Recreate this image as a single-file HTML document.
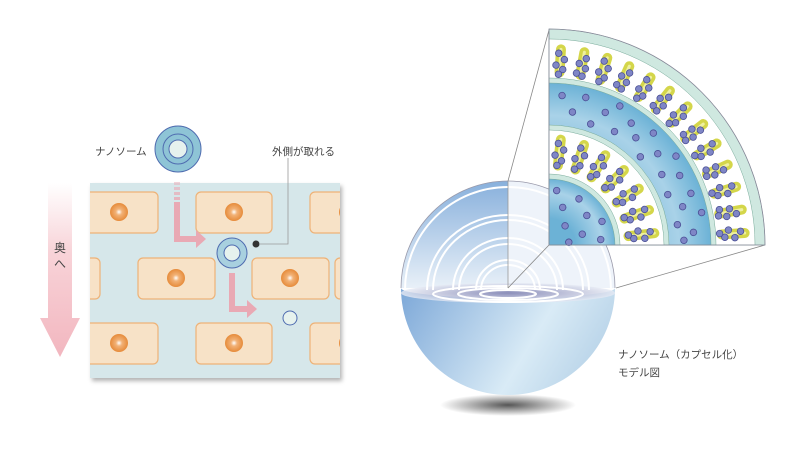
<!DOCTYPE html>
<html><head><meta charset="utf-8"><style>
body{margin:0;background:#fff;width:800px;height:460px;overflow:hidden}
svg text{font-family:"Liberation Sans","Noto Sans CJK JP",sans-serif;fill:#444}
</style></head><body>
<svg width="800" height="460" viewBox="0 0 800 460" xmlns="http://www.w3.org/2000/svg" xmlns:xlink="http://www.w3.org/1999/xlink">
<defs>
<linearGradient id="pk" x1="0" y1="0" x2="0" y2="1"><stop offset="0" stop-color="#fff"/><stop offset="0.4" stop-color="#f8d3d8"/><stop offset="1" stop-color="#f2b6bf"/></linearGradient>
<radialGradient id="nu"><stop offset="0" stop-color="#fff"/><stop offset="0.35" stop-color="#f2b277"/><stop offset="1" stop-color="#e68b3a"/></radialGradient>
<linearGradient id="sph" x1="0" y1="0" x2="1" y2="0.3"><stop offset="0" stop-color="#7da8d8"/><stop offset="0.7" stop-color="#d9ebf6"/><stop offset="1" stop-color="#bcd6ea"/></linearGradient>
<linearGradient id="up" x1="0" y1="0" x2="0" y2="1"><stop offset="0" stop-color="#88b0dc"/><stop offset="1" stop-color="#e8f0f8"/></linearGradient>
<radialGradient id="sh"><stop offset="0" stop-color="#555"/><stop offset="1" stop-color="#fff"/></radialGradient>
<radialGradient id="bl" cx="0" cy="1" r="1"><stop offset="0.4" stop-color="#6cb2d6"/><stop offset="0.8" stop-color="#a9d2e8"/><stop offset="1" stop-color="#6cb2d6"/></radialGradient>
<radialGradient id="cut" cx="0.5" cy="0.5"><stop offset="0" stop-color="#6e72a8"/><stop offset="1" stop-color="#e6eaf4"/></radialGradient>
<filter id="ds"><feDropShadow dx="2" dy="3" stdDeviation="2" flood-opacity="0.3"/></filter>
<clipPath id="pc"><rect x="90" y="183" width="250" height="195"/></clipPath>
<circle id="b" cx="549" cy="245" r="3.3" fill="#7f86c6" stroke="#4a4f95" stroke-width="0.8"/>
<g id="L1">
<line x1="549" y1="49" x2="549" y2="72" stroke="#d4d64a" stroke-width="10" stroke-linecap="round"/>
<line x1="549" y1="49" x2="549" y2="72" stroke="#eef0a0" stroke-width="3" stroke-linecap="round"/>
<use xlink:href="#b" x="-2" y="-192"/><use xlink:href="#b" x="4" y="-186"/><use xlink:href="#b" x="-4" y="-180"/><use xlink:href="#b" x="3" y="-176"/><use xlink:href="#b" x="-1" y="-171"/>
</g>
<g id="L2">
<line x1="549" y1="49" x2="549" y2="72" stroke="#d4d64a" stroke-width="10" stroke-linecap="round"/>
<line x1="549" y1="49" x2="549" y2="72" stroke="#eef0a0" stroke-width="3" stroke-linecap="round"/>
<use xlink:href="#b" x="3" y="-190"/><use xlink:href="#b" x="-3" y="-184"/><use xlink:href="#b" x="4" y="-180"/><use xlink:href="#b" x="-4" y="-174"/><use xlink:href="#b" x="2" y="-172"/>
</g>
<g id="L3">
<line x1="549" y1="139" x2="549" y2="165" stroke="#d4d64a" stroke-width="10" stroke-linecap="round"/>
<line x1="549" y1="139" x2="549" y2="165" stroke="#eef0a0" stroke-width="3" stroke-linecap="round"/>
<use xlink:href="#b" x="-2" y="-102"/><use xlink:href="#b" x="4" y="-96"/><use xlink:href="#b" x="-4" y="-90"/><use xlink:href="#b" x="3" y="-85"/><use xlink:href="#b" x="-1" y="-80"/>
</g>
</defs>
<!-- left arrow -->
<polygon points="48,183 72,183 72,318 80,318 60,357 40,318 48,318" fill="url(#pk)"/>
<text x="54" y="252" font-size="12">奥</text><text x="54" y="268" font-size="12">へ</text>
<!-- panel -->
<rect x="90" y="183" width="250" height="195" fill="#d6e7ea" filter="url(#ds)"/>
<g clip-path="url(#pc)" fill="#f7e2c7" stroke="#eeb277" stroke-width="1.2">
<rect x="72" y="192" width="86" height="41" rx="5"/><rect x="196" y="192" width="76" height="41" rx="5"/><rect x="310" y="192" width="76" height="41" rx="5"/>
<rect x="24" y="258" width="76" height="41" rx="5"/><rect x="138" y="258" width="77" height="41" rx="5"/><rect x="252" y="258" width="77" height="41" rx="5"/><rect x="335" y="258" width="76" height="41" rx="5"/>
<rect x="72" y="323" width="86" height="41" rx="5"/><rect x="196" y="323" width="76" height="41" rx="5"/><rect x="310" y="323" width="76" height="41" rx="5"/>
<g stroke="none" fill="url(#nu)">
<circle cx="119" cy="212" r="9"/><circle cx="234" cy="212" r="9"/><circle cx="348" cy="212" r="9"/>
<circle cx="176" cy="278" r="9"/><circle cx="290" cy="278" r="9"/>
<circle cx="119" cy="343" r="9"/><circle cx="234" cy="343" r="9"/><circle cx="348" cy="343" r="9"/>
</g>
</g>
<!-- arrows -->
<g fill="#e9a9b4">
<rect x="174" y="182" width="6" height="3" opacity="0.5"/><rect x="174" y="187" width="6" height="3" opacity="0.6"/><rect x="174" y="192" width="6" height="3" opacity="0.7"/><rect x="174" y="197" width="6" height="3" opacity="0.8"/>
<path d="M174,202 h6 v34 h16 v-6 l10,9 l-10,9 v-6 h-22 z"/>
<path d="M229,273 h6 v33 h12 v-6 l10,9 l-10,9 v-6 h-18 z"/>
</g>
<!-- nanosome top -->
<circle cx="178" cy="149" r="23" fill="#8ec4d6" stroke="#4f6cb0" stroke-width="1"/>
<circle cx="178" cy="149" r="15" fill="#8ec4d6" stroke="#4f6cb0" stroke-width="1"/>
<circle cx="178" cy="149" r="9" fill="#e6f2ee" stroke="#4f6cb0" stroke-width="1"/>
<text x="95" y="155" font-size="10.5">ナノソーム</text>
<circle cx="232" cy="253" r="15" fill="#a8d0df" stroke="#4f6cb0"/>
<circle cx="232" cy="253" r="8" fill="#e6f2ee" stroke="#4f6cb0"/>
<circle cx="256" cy="244" r="3.5" fill="#333"/>
<polyline points="259,244 288,244 288,158" fill="none" stroke="#999" stroke-width="0.8"/>
<text x="272" y="155" font-size="10.5">外側が取れる</text>
<circle cx="290" cy="318" r="7" fill="#e6f2ee" stroke="#4f6cb0"/>
<!-- shadow -->
<ellipse cx="508" cy="405" rx="68" ry="11" fill="url(#sh)"/>
<!-- sphere -->
<path d="M401,288 A107,107 0 0 0 615,288 A107,10 0 0 1 401,288z" fill="url(#sph)"/>
<path d="M401,288 A107,107 0 0 1 508,181 V288z" fill="url(#up)"/>
<path d="M508,181 A107,107 0 0 1 615,288 H508z" fill="#eef3fa"/>
<ellipse cx="508" cy="293" rx="107" ry="10" fill="url(#cut)" opacity="0.8"/>
<g fill="none" stroke="#fff" stroke-width="2">
<path d="M405,290 A103,103 0 0 1 611,290"/>
<path d="M427,290 A81,75 0 0 1 589,290"/><path d="M433,290 A75,70 0 0 1 583,290"/>
<path d="M453,290 A55,52 0 0 1 563,290"/><path d="M459,290 A49,46 0 0 1 557,290"/>
<path d="M476,290 A32,30 0 0 1 540,290"/><path d="M481,290 A27,25 0 0 1 535,290"/>
<ellipse cx="508" cy="294" rx="75" ry="8"/><ellipse cx="508" cy="294" rx="50" ry="6"/><ellipse cx="508" cy="294" rx="28" ry="4"/>
</g>
<path d="M401,288 A107,107 0 0 1 615,288" fill="none" stroke="#99a" stroke-width="0.8"/>
<line x1="508" y1="181" x2="508" y2="288" stroke="#999" stroke-width="0.8"/>
<!-- connectors -->
<g stroke="#888" stroke-width="0.8"><line x1="508" y1="181" x2="549" y2="30"/><line x1="616" y1="288" x2="765" y2="245"/><line x1="508" y1="288" x2="549" y2="245"/></g>
<!-- fan -->
<g stroke="#7a9" stroke-width="0.5">
<path d="M549,245 V29 A216,216 0 0 1 765,245z" fill="#cfe8e0"/>
<path d="M549,245 V39 A206,206 0 0 1 755,245z" fill="#fff"/>
<path d="M549,245 V78 A167,167 0 0 1 716,245z" fill="#cfe8e0"/>
<path d="M549,245 V83 A162,162 0 0 1 711,245z" fill="url(#bl)"/>
<path d="M549,245 V125 A120,120 0 0 1 669,245z" fill="#cfe8e0"/>
<path d="M549,245 V130 A115,115 0 0 1 664,245z" fill="#fff"/>
<path d="M549,245 V174 A71,71 0 0 1 620,245z" fill="#cfe8e0"/>
<path d="M549,245 V179 A66,66 0 0 1 615,245z" fill="url(#bl)"/>
</g>
<!-- lipids outer -->
<use xlink:href="#L1" transform="rotate(3.5 549 245)"/><use xlink:href="#L2" transform="rotate(10.4 549 245)"/><use xlink:href="#L1" transform="rotate(17.3 549 245)"/><use xlink:href="#L2" transform="rotate(24.2 549 245)"/><use xlink:href="#L1" transform="rotate(31.2 549 245)"/><use xlink:href="#L2" transform="rotate(38.1 549 245)"/><use xlink:href="#L1" transform="rotate(45 549 245)"/><use xlink:href="#L2" transform="rotate(51.9 549 245)"/><use xlink:href="#L1" transform="rotate(58.8 549 245)"/><use xlink:href="#L2" transform="rotate(65.8 549 245)"/><use xlink:href="#L1" transform="rotate(72.7 549 245)"/><use xlink:href="#L2" transform="rotate(79.6 549 245)"/><use xlink:href="#L1" transform="rotate(86.5 549 245)"/>
<!-- lipids inner -->
<use xlink:href="#L3" transform="rotate(6.4 549 245)"/><use xlink:href="#L3" transform="rotate(19.3 549 245)"/><use xlink:href="#L3" transform="rotate(32.1 549 245)"/><use xlink:href="#L3" transform="rotate(45 549 245)"/><use xlink:href="#L3" transform="rotate(57.9 549 245)"/><use xlink:href="#L3" transform="rotate(70.7 549 245)"/><use xlink:href="#L3" transform="rotate(83.6 549 245)"/>
<!-- blue band dots -->
<g>
<use xlink:href="#b" y="-150" transform="rotate(5 549 245)"/><use xlink:href="#b" y="-135" transform="rotate(10 549 245)"/><use xlink:href="#b" y="-152" transform="rotate(14 549 245)"/><use xlink:href="#b" y="-128" transform="rotate(19 549 245)"/><use xlink:href="#b" y="-144" transform="rotate(23 549 245)"/><use xlink:href="#b" y="-156" transform="rotate(27 549 245)"/><use xlink:href="#b" y="-131" transform="rotate(30 549 245)"/><use xlink:href="#b" y="-147" transform="rotate(34 549 245)"/><use xlink:href="#b" y="-138" transform="rotate(39 549 245)"/><use xlink:href="#b" y="-153" transform="rotate(43 549 245)"/><use xlink:href="#b" y="-127" transform="rotate(46 549 245)"/><use xlink:href="#b" y="-142" transform="rotate(50 549 245)"/><use xlink:href="#b" y="-155" transform="rotate(55 549 245)"/><use xlink:href="#b" y="-133" transform="rotate(58 549 245)"/><use xlink:href="#b" y="-148" transform="rotate(62 549 245)"/><use xlink:href="#b" y="-129" transform="rotate(67 549 245)"/><use xlink:href="#b" y="-151" transform="rotate(70 549 245)"/><use xlink:href="#b" y="-139" transform="rotate(74 549 245)"/><use xlink:href="#b" y="-156" transform="rotate(78 549 245)"/><use xlink:href="#b" y="-130" transform="rotate(81 549 245)"/><use xlink:href="#b" y="-145" transform="rotate(85 549 245)"/><use xlink:href="#b" y="-135" transform="rotate(88 549 245)"/>
<use xlink:href="#b" y="-55" transform="rotate(8 549 245)"/><use xlink:href="#b" y="-40" transform="rotate(20 549 245)"/><use xlink:href="#b" y="-55" transform="rotate(33 549 245)"/><use xlink:href="#b" y="-25" transform="rotate(40 549 245)"/><use xlink:href="#b" y="-48" transform="rotate(52 549 245)"/><use xlink:href="#b" y="-58" transform="rotate(66 549 245)"/><use xlink:href="#b" y="-35" transform="rotate(72 549 245)"/><use xlink:href="#b" y="-52" transform="rotate(84 549 245)"/><use xlink:href="#b" y="-20" transform="rotate(82 549 245)"/>
</g>
<path d="M549,245 V29 A216,216 0 0 1 765,245z" fill="none" stroke="#889" stroke-width="0.8"/>
<text x="618" y="358" font-size="10.5">ナノソーム（カプセル化）</text>
<text x="618" y="376" font-size="10.5">モデル図</text>
</svg>
</body></html>
